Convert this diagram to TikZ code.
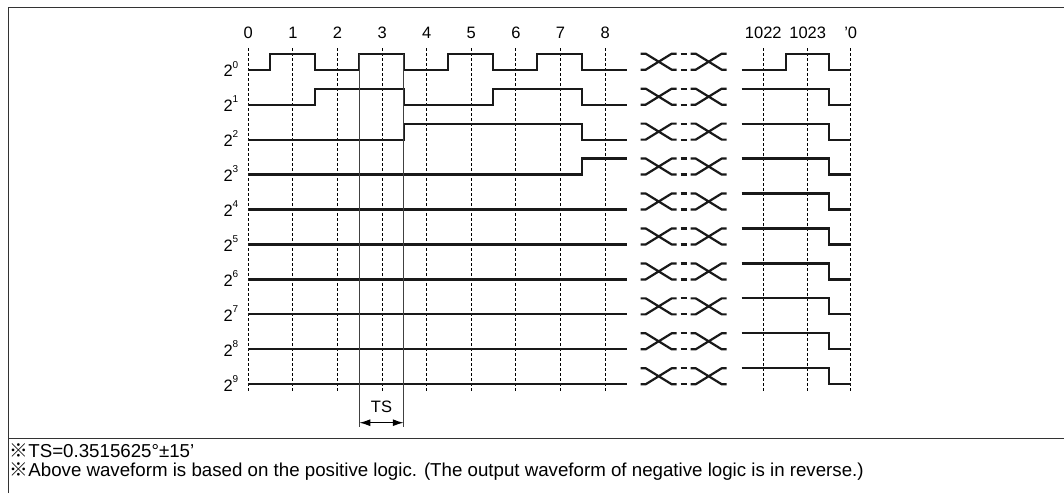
\documentclass[tikz,border=0pt]{standalone}
\usepackage{fontspec}
\setmainfont{Liberation Sans}
\newfontfamily\cjk{Noto Sans CJK JP}
\usetikzlibrary{arrows.meta}
\newcommand{\supr}[1]{\raisebox{8.5pt}{\fontsize{10}{10}\selectfont #1}}
\begin{document}
\begin{tikzpicture}[x=1pt,y=-1pt,
  wave/.style={line width=2.2pt, line join=miter, black!90},
  gridl/.style={line width=0.9pt, dash pattern=on 3pt off 2pt, black},
  thinl/.style={line width=1pt, black!75},
  frame/.style={line width=1.3pt, black!80},
  lbl/.style={inner sep=0pt, font=\fontsize{16.5}{18}\selectfont},
  note/.style={inner sep=0pt, anchor=base west, font=\fontsize{18.7}{19}\selectfont},
  brk/.pic={
    \draw[wave] (0,0)--(5,0)--(31,-16)--(36,-16) (0,-16)--(5,-16)--(31,0)--(36,0);
    \draw[wave] (40,0)--(46,0) (40,-16)--(46,-16);
    \draw[wave] (50,0)--(55,0)--(81,-16)--(86,-16) (50,-16)--(55,-16)--(81,0)--(86,0);
  }]
\useasboundingbox (0,0) rectangle (1064,493);
% frame
\draw[frame] (8.3,493) -- (8.3,7.8) -- (1064,7.8);
\draw[frame] (8.3,438.7) -- (1064,438.7);
% dashed grid lines and tick labels
\foreach \n in {0,...,8}{
  \pgfmathsetmacro\xx{248.3+44.6*\n}
  \draw[gridl] (\xx,48) -- (\xx,392);
  \node[lbl, anchor=base] (t\n) at (\xx,38.3) {\n};
}
\foreach \xx/\name/\txt in {763.3/ta/1022, 807.7/tb/1023, 850.7/tc/'0}{
  \draw[gridl] (\xx,48) -- (\xx,392);
  \node[lbl, anchor=base] (\name) at (\xx,38.3) {\txt};
}
% bit labels
\foreach \k in {0,...,9}{
  \pgfmathsetmacro\yy{69.7+34.95*\k}
  \node[lbl, anchor=base east] (b\k) at (238.5,\yy+6.8) {2\supr{\k}};
}
% left waveforms
\draw[wave] (248.3,69.7) -- (270.3,69.7) -- (270.3,53.7) -- (314.8,53.7) -- (314.8,69.7)
  -- (359.3,69.7) -- (359.3,53.7) -- (403.8,53.7) -- (403.8,69.7) -- (448.3,69.7)
  -- (448.3,53.7) -- (492.8,53.7) -- (492.8,69.7) -- (537.3,69.7) -- (537.3,53.7)
  -- (581.8,53.7) -- (581.8,69.7) -- (627,69.7);
\draw[wave] (248.3,104.6) -- (314.8,104.6) -- (314.8,88.6) -- (403.8,88.6) -- (403.8,104.6)
  -- (492.8,104.6) -- (492.8,88.6) -- (581.8,88.6) -- (581.8,104.6) -- (627,104.6);
\draw[wave] (248.3,139.6) -- (403.8,139.6) -- (403.8,123.6) -- (581.8,123.6) -- (581.8,139.6) -- (627,139.6);
\draw[wave] (248.3,174.5) -- (581.8,174.5) -- (581.8,158.5) -- (627,158.5);
\foreach \k in {4,...,9}{
  \pgfmathsetmacro\yy{69.7+34.95*\k}
  \draw[wave] (248.3,\yy) -- (627,\yy);
}
% break symbols and right waveforms
\foreach \k in {0,...,9}{
  \pgfmathsetmacro\yy{69.7+34.95*\k}
  \pgfmathsetmacro\hh{\yy-16}
  \pic at (640.7,\yy) {brk};
  \ifnum\k=0
    \draw[wave] (741.7,\yy) -- (785.6,\yy) -- (785.6,\hh) -- (829.3,\hh) -- (829.3,\yy) -- (850.7,\yy);
  \else
    \draw[wave] (741.7,\hh) -- (829.3,\hh) -- (829.3,\yy) -- (850.7,\yy);
  \fi
}
% TS markers
\draw[thinl] (359.3,53.7) -- (359.3,426.7);
\draw[thinl] (403.8,53.7) -- (403.8,426.7);
\coordinate (tsL) at (359.3,422.7);
\coordinate (tsR) at (403.8,422.7);
\draw[line width=1.3pt, {Latex[length=11pt,width=7pt]}-{Latex[length=11pt,width=7pt]}] (tsL) -- (tsR);
\node[lbl, anchor=base] (ts) at (381.5,412.5) {TS};
% notes
\node[note] (n1) at (9.5,457.3) {{\cjk ※}TS=0.3515625°±15'};
\node[note] (n2) at (9.5,476) {{\cjk ※}Above waveform is based on the positive logic. (The output waveform of negative logic is in reverse.)};
\end{tikzpicture}
\end{document}
